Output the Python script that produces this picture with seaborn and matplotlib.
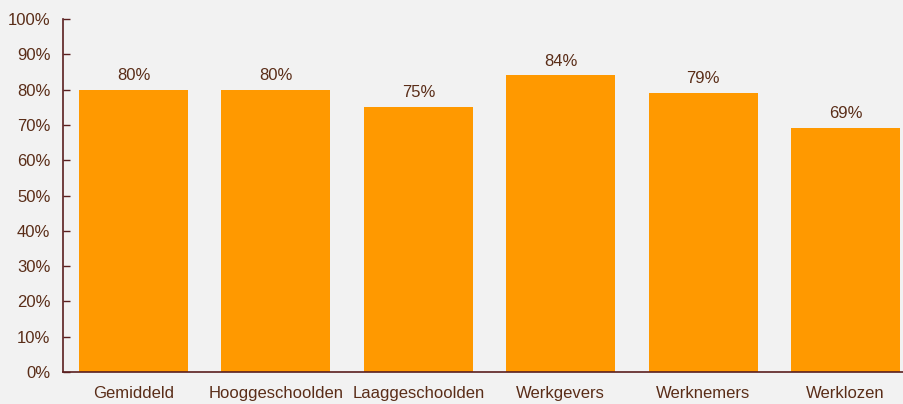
import matplotlib.pyplot as plt
import seaborn as sns
import pandas as pd
from matplotlib.ticker import FuncFormatter

categories = ['Gemiddeld', 'Hooggeschoolden', 'Laaggeschoolden', 'Werkgevers', 'Werknemers', 'Werklozen']
values = [80, 80, 75, 84, 79, 69]

bg = '#f2f2f2'
txt = '#5a2d18'
spine = '#5a1f1f'
bar = '#ff9900'

sns.set_theme(style='white')
plt.rcParams['font.family'] = ['Liberation Sans', 'DejaVu Sans']

df = pd.DataFrame({'groep': categories, 'pct': values})

fig = plt.figure(figsize=(9.04, 4.04), dpi=100, facecolor=bg)
ax = fig.add_axes([63 / 904, 1 - 372 / 404, 1 - 63 / 904, (372 - 19) / 404])
ax.set_facecolor(bg)

sns.barplot(data=df, x='groep', y='pct', color=bar, width=0.766, saturation=1,
            linewidth=0, edgecolor='none', ax=ax)

for c in ax.containers:
    ax.bar_label(c, labels=[f'{v}%' for v in values], padding=5, color=txt, fontsize=12)

ax.set_ylim(0, 100)
ax.set_xlim(-0.495, 5.41)
ax.set_yticks(range(0, 101, 10))
ax.yaxis.set_major_formatter(FuncFormatter(lambda v, p: f'{v:.0f}%'))
ax.set_xlabel('')
ax.set_ylabel('')

for s in ['top', 'right']:
    ax.spines[s].set_visible(False)
for s in ['left', 'bottom']:
    ax.spines[s].set_color(spine)
    ax.spines[s].set_linewidth(1.2)

ax.tick_params(axis='y', direction='in', length=5, width=1, color=spine, labelcolor=txt, labelsize=12, pad=9, left=True)
ax.tick_params(axis='x', length=0, labelcolor=txt, labelsize=12, pad=10)

fig.savefig('out.png', dpi=100, facecolor=bg)
